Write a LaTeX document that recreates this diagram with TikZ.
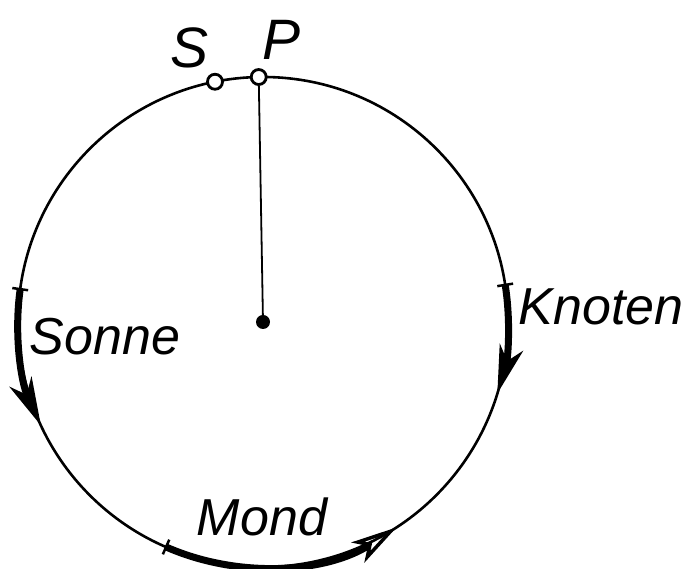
\documentclass[tikz,border=0pt]{standalone}
\usepackage{fontspec}
\setsansfont{Liberation Sans}
\usetikzlibrary{arrows.meta,calc}
\begin{document}
\begin{tikzpicture}[x=1pt,y=1pt,
  lbl/.style={font=\sffamily\itshape\fontsize{52}{52}\selectfont},
  ptlbl/.style={font=\sffamily\itshape\fontsize{57}{57}\selectfont},
  ring/.style={circle, draw, fill=white, line width=2.8pt, minimum size=15pt, inner sep=0pt},
  motion/.style={line width=7pt, {Bar[width=16pt,line width=2.5pt]}-{Stealth[length=48pt,width=24pt,inset=14pt]}}]
	  \useasboundingbox (0,0) rectangle (689,569);
	  \coordinate (O) at (263,247);
	  
	  \draw[line width=2.6pt] (O) circle[radius=245pt];
	  \fill (O) circle[radius=7pt];
	  
	  \node[ring] (S) at ($(O)+(101.3:245pt)$) {};
	  \node[ring] (P) at ($(O)+(91:245pt)$) {};
	  \draw[line width=1.8pt] (P) -- (O);
	  
	  \node[ptlbl] (s) at (190,521) {S};
	  \node[ptlbl] (p) at (282,529) {P};
	  \node[lbl] (sonne) at (105,232) {Sonne};
	  \node[lbl] (knoten) at (601,262) {Knoten};
	  \node[lbl] (mond) at (262,52) {Mond};
	  
	  \draw[motion] ($(O)+(172:245pt)$) arc[start angle=172, end angle=205, radius=245pt];
	  \draw[motion] ($(O)+(9:245pt)$) arc[start angle=9, end angle=-17, radius=245pt];
	  \draw[line width=7pt, {Bar[width=16pt,line width=2.5pt]}-{Stealth[open,length=46pt,width=24pt,inset=12pt,line width=3.5pt]}]
	    ($(O)+(246.4:245pt)$) arc[start angle=246.4, end angle=303, radius=245pt];
	\end{tikzpicture}
\end{document}
